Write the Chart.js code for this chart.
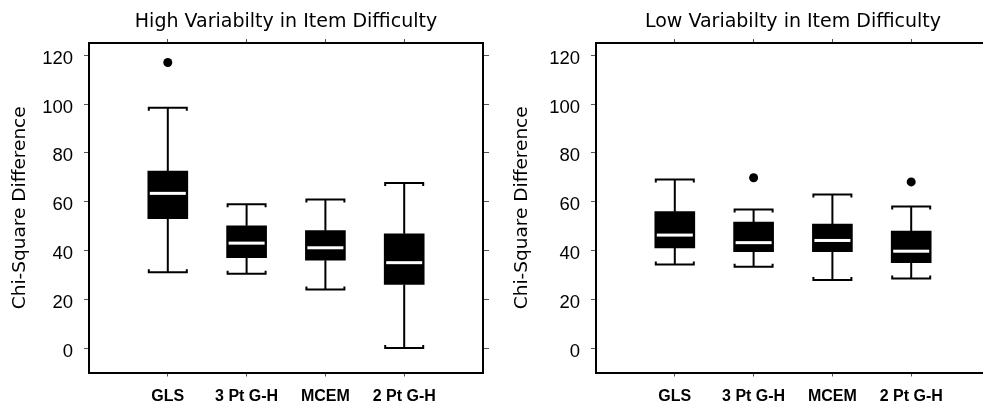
<!DOCTYPE html>
<html>
<head>
<meta charset="utf-8">
<title>Chi-Square Difference</title>
<script src="https://cdn.jsdelivr.net/npm/chart.js@4/dist/chart.umd.min.js"></script>
<style>
  html, body { margin: 0; padding: 0; background: #fff; overflow: hidden; width: 983px; height: 403px; }
  .panel { position: absolute; top: 0; }
</style>
</head>
<body>
<div class="panel" style="left:0"><canvas id="highChart" width="497" height="403"></canvas></div>
<div class="panel" style="left:507px"><canvas id="lowChart" width="497" height="403"></canvas></div>
<script>
// --------------------
// Data
// --------------------
const categories = ['GLS', '3 Pt G-H', 'MCEM', '2 Pt G-H'];
const yTicks = [0, 20, 40, 60, 80, 100, 120];

// High variability in item difficulty
const highLower = [31.1, 30.5, 24.0, 0];
const highQ1 = [53.0, 37.0, 36.0, 26.1];
const highMedian = [63.4, 43.0, 41.1, 35.0];
const highQ3 = [72.5, 50.1, 48.1, 46.8];
const highUpper = [98.5, 58.9, 60.9, 67.6];
const highOutliers = [[117.0], [], [], []];

// Low variability in item difficulty
const lowLower = [34.3, 33.3, 27.9, 28.5];
const lowQ1 = [41.0, 39.5, 39.5, 35.0];
const lowMedian = [46.3, 43.2, 44.1, 39.7];
const lowQ3 = [55.9, 51.6, 50.8, 47.9];
const lowUpper = [69.1, 56.8, 62.9, 58.0];
const lowOutliers = [[], [69.8], [], [68.1]];

const FONT = 'Liberation Sans, Arial, Helvetica, sans-serif';
const TITLE_FONT = 'DejaVu Sans, Verdana, sans-serif';
const BOX_WIDTH = 40;

// --------------------
// Whiskers + medians drawn on top of the boxes
// --------------------
const boxWhiskerPlugin = {
  id: 'boxWhisker',
  afterDatasetsDraw(chart, args, opts) {
    const { ctx } = chart;
    const x = chart.scales.x;
    const y = chart.scales.y;
    const half = BOX_WIDTH / 2;

    ctx.save();
    ctx.strokeStyle = '#000';
    ctx.lineWidth = 2;
    ctx.lineCap = 'butt';

    opts.lower.forEach((lo, i) => {
      const cx = x.getPixelForValue(i + 1);
      const pLo = y.getPixelForValue(lo);
      const pHi = y.getPixelForValue(opts.upper[i]);
      const pQ1 = y.getPixelForValue(opts.q1[i]);
      const pQ3 = y.getPixelForValue(opts.q3[i]);
      const pMed = y.getPixelForValue(opts.median[i]);

      ctx.beginPath();
      // stems
      ctx.moveTo(cx, pQ3); ctx.lineTo(cx, pHi);
      ctx.moveTo(cx, pQ1); ctx.lineTo(cx, pLo);
      // caps with small end serifs pointing to the box
      ctx.moveTo(cx - half + 1, pHi + 3); ctx.lineTo(cx - half + 1, pHi);
      ctx.lineTo(cx + half - 1, pHi); ctx.lineTo(cx + half - 1, pHi + 3);
      ctx.moveTo(cx - half + 1, pLo - 3); ctx.lineTo(cx - half + 1, pLo);
      ctx.lineTo(cx + half - 1, pLo); ctx.lineTo(cx + half - 1, pLo - 3);
      ctx.stroke();

      // median
      ctx.fillStyle = '#fff';
      ctx.fillRect(cx - half + 2, pMed - 1.5, BOX_WIDTH - 4, 3);
    });
    ctx.restore();
  }
};

// --------------------
// Chart creation helper
// --------------------
function categoryTicks(scale) {
  scale.ticks = categories.map((c, i) => ({ value: i + 1 }));
}

function valueTicks(scale) {
  scale.ticks = yTicks.map(v => ({ value: v }));
}

function createBoxChart(canvasId, title, lower, q1, median, q3, upper, outliers, yTitlePad) {
  const ctx = document.getElementById(canvasId).getContext('2d');

  const boxes = categories.map((c, i) => ({ x: i + 1, y: [q1[i], q3[i]] }));
  const dots = [];
  outliers.forEach((list, i) => list.forEach(v => dots.push({ x: i + 1, y: v })));

  const tickGrid = (len) => ({
    drawOnChartArea: false,
    drawTicks: true,
    tickLength: len,
    color: '#555',
    lineWidth: 1,
    offset: false
  });
  const frame = { display: true, color: '#000', width: 2 };

  return new Chart(ctx, {
    type: 'bar',
    data: {
      datasets: [{
        type: 'bar',
        label: 'IQR',
        data: boxes,
        backgroundColor: '#000',
        borderWidth: 0,
        barThickness: BOX_WIDTH
      }, {
        type: 'scatter',
        label: 'Outliers',
        data: dots,
        backgroundColor: '#000',
        borderWidth: 0,
        pointRadius: 4.5
      }]
    },
    options: {
      responsive: false,
      animation: false,
      layout: { padding: 0 },
      plugins: {
        legend: { display: false },
        tooltip: { enabled: false },
        title: { display: false },
        boxWhisker: { lower, q1, median, q3, upper }
      },
      scales: {
        x: {
          type: 'linear',
          position: 'bottom',
          min: 0,
          max: 5,
          offset: false,
          afterBuildTicks: categoryTicks,
          afterFit: s => { s.height = 30.5; },
          grid: tickGrid(4),
          border: frame,
          ticks: {
            callback: v => categories[v - 1],
            autoSkip: false,
            maxRotation: 0,
            padding: 10,
            color: '#000',
            font: { family: FONT, size: 16, weight: 'bold' }
          }
        },
        x2: {
          type: 'linear',
          position: 'top',
          min: 0,
          max: 5,
          offset: false,
          afterBuildTicks: categoryTicks,
          afterFit: s => { s.height = 43; },
          grid: tickGrid(4),
          border: frame,
          ticks: { display: false },
          title: {
            display: true,
            text: title,
            color: '#000',
            font: { family: TITLE_FONT, size: 19 },
            padding: { top: 10.9, bottom: 0 }
          }
        },
        y: {
          type: 'linear',
          position: 'left',
          min: -10,
          max: 125,
          afterBuildTicks: valueTicks,
          afterFit: s => { s.width = 89; },
          grid: tickGrid(5),
          border: frame,
          ticks: {
            padding: 11,
            labelOffset: 3.5,
            color: '#000',
            font: { family: FONT, size: 18.5 }
          },
          title: {
            display: true,
            text: 'Chi-Square Difference',
            color: '#000',
            font: { family: TITLE_FONT, size: 18.5 },
            padding: { top: yTitlePad, bottom: 0 }
          }
        },
        y2: {
          type: 'linear',
          position: 'right',
          min: -10,
          max: 125,
          afterBuildTicks: valueTicks,
          afterFit: s => { s.width = 14; },
          grid: tickGrid(6),
          border: frame,
          ticks: { display: false }
        }
      }
    },
    plugins: [boxWhiskerPlugin]
  });
}

createBoxChart('highChart', 'High Variabilty in Item Difficulty',
  highLower, highQ1, highMedian, highQ3, highUpper, highOutliers, 8.75);
createBoxChart('lowChart', 'Low Variabilty in Item Difficulty',
  lowLower, lowQ1, lowMedian, lowQ3, lowUpper, lowOutliers, 4.2);
</script>
</body>
</html>
